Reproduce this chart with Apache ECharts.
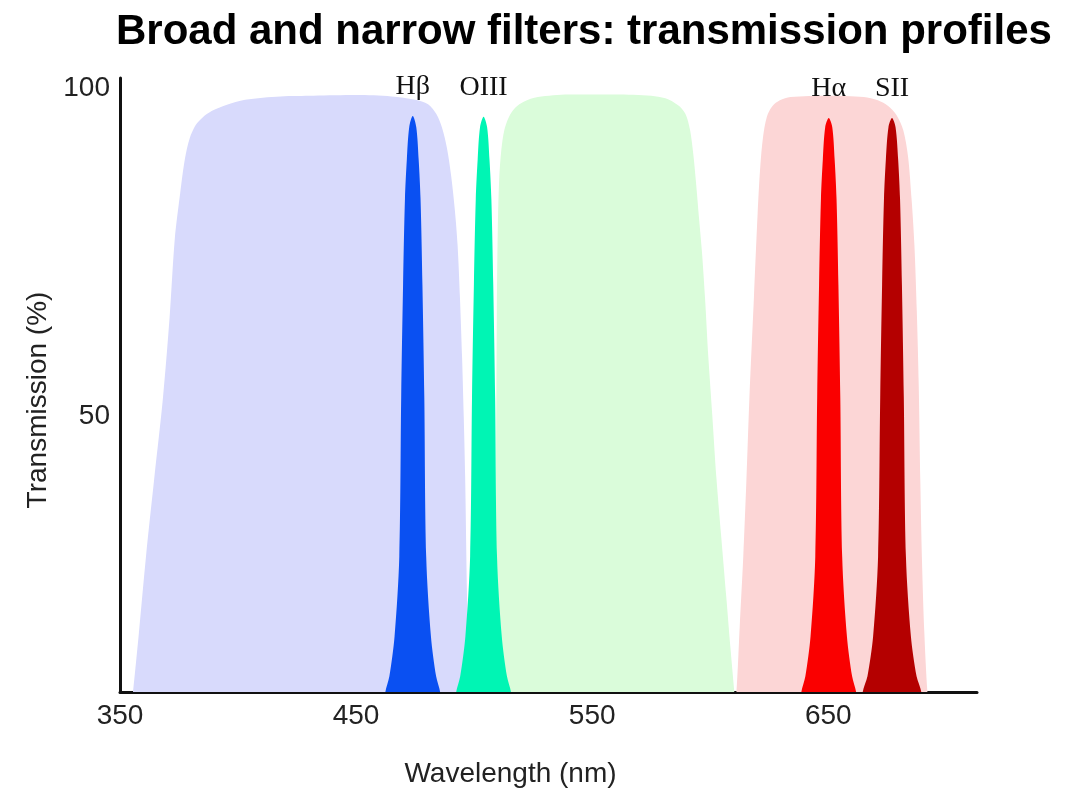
<!DOCTYPE html>
<html>
<head>
<meta charset="utf-8">
<title>Broad and narrow filters: transmission profiles</title>
<script src="https://cdn.jsdelivr.net/npm/echarts@6/dist/echarts.min.js"></script>
<style>
  html, body { margin: 0; padding: 0; background: #ffffff; }
  #chart { width: 1081px; height: 796px; }
</style>
</head>
<body>
<div id="chart"></div>
<script>
// Wavelength (nm) / transmission (%) pairs for each filter profile.
const broadBlue = [
  [353, 0], [355.5, 8], [358, 17], [361, 28.6], [364.5, 40.5], [368.2, 52.8],
  [371, 65], [373.2, 77], [375.5, 84], [377.5, 89.2], [379.5, 92.3], [382, 94.3],
  [385, 95.5], [389, 96.5], [395, 97.4], [403, 98.2], [418, 98.7], [432, 98.8], [450, 98.9],
  [465, 98.7], [475, 98.2], [480.5, 97.5], [484, 96], [486.5, 93.8], [488.5, 90.8],
  [490.3, 86.5], [491.8, 81.5], [493, 76], [494, 68], [494.9, 58.9], [495.6, 50], [496.2, 40.7],
  [497, 22.5], [497.9, 8], [499, 0]
];
const broadGreen = [
  [508.5, 0], [509, 8], [509.3, 40], [509.6, 65], [510, 78], [510.6, 86],
  [511.5, 90.5], [512.8, 93.6], [514.8, 95.6], [517.5, 97], [521, 97.9], [527, 98.6], [540, 99],
  [560, 99], [575, 98.8], [581, 98.4], [584.5, 97.8], [587.5, 97], [589.8, 95.8],
  [591.5, 93.5], [592.8, 90], [594, 85.5], [595.3, 80], [596.5, 75], [597.8, 68], [599.2, 59],
  [600.9, 50], [602.6, 40.7], [604.7, 31.5], [606.8, 22.5], [608.5, 15],
  [610.2, 8], [612, 0]
];
const broadRed = [
  [609, 0], [611.1, 8], [612.5, 18], [614, 28.6], [615.3, 40], [616.6, 52.8],
  [618.5, 68], [620.1, 81], [621.2, 88], [622.4, 92.6], [624, 95.6], [626.3, 97.2], [629.5, 98.1],
  [634, 98.6], [650, 98.8], [665, 98.6], [671, 98.1], [675.5, 97.2], [679, 95.8],
  [681.8, 93.5], [683.8, 89.5], [685.3, 83], [686.5, 76], [687.5, 66], [688.3, 55], [689, 40],
  [689.7, 28], [690.7, 17], [692, 8], [694, 0]
];
const lineHbeta = [
  [461, 3], [462.4, 8], [464.1, 10.4], [466.3, 16.5], [468.3, 28.6], [469.1, 52.8],
  [469.9, 70], [470.7, 83.1], [471.5, 89.1], [472.5, 94], [474, 95.7], [475.5, 94],
  [476.5, 89.1], [477.3, 83.1], [478.1, 70], [478.9, 52.8], [479.7, 28.6], [481.7, 16.5],
  [483.9, 10.4], [485.6, 8], [487, 3]
];
const lineOIII = [
  [491, 3], [492.4, 8], [494.1, 10.4], [496.3, 16.5], [498.3, 28.6], [499.1, 52.8],
  [499.9, 70], [500.7, 83.1], [501.5, 89.1], [502.5, 94], [504, 95.6], [505.5, 94],
  [506.5, 89.1], [507.3, 83.1], [508.1, 70], [508.9, 52.8], [509.7, 28.6], [511.7, 16.5],
  [513.9, 10.4], [515.6, 8], [517, 3]
];
const lineHalpha = [
  [637.2, 3], [638.6, 8], [640.3, 10.4], [642.5, 16.5], [644.5, 28.6], [645.3, 52.8],
  [646.1, 70], [646.9, 83.1], [647.7, 89.1], [648.7, 94], [650.2, 95.4], [651.7, 94],
  [652.7, 89.1], [653.5, 83.1], [654.3, 70], [655.1, 52.8], [655.9, 28.6], [657.9, 16.5],
  [660.1, 10.4], [661.8, 8], [663.2, 3]
];
const lineSII = [
  [663.6, 3], [664.6, 8], [666.6, 10.4], [669, 16.5], [671.1, 28.6], [672, 52.8],
  [672.8, 70], [673.6, 83.1], [674.4, 89.1], [675.5, 94], [677, 95.4], [678.5, 94],
  [679.6, 89.1], [680.4, 83.1], [681.2, 70], [682, 52.8], [682.9, 28.6], [685, 16.5],
  [687.4, 10.4], [689.4, 8], [690.5, 3]
];

const lineNames = ['H\u03b2', 'OIII', 'H\u03b1', 'SII'];
const xTickLabels = [350, 450, 550, 650];
const yTickLabels = [50, 100];

const sansFont = '"Liberation Sans", Arial, Helvetica, sans-serif';
const serifFont = '"Liberation Serif", "Times New Roman", serif';

function peakOf(data) {
  return data.reduce((best, p) => (p[1] > best[1] ? p : best), data[0]);
}

function broadSeries(name, data, color) {
  return {
    name: name,
    type: 'line',
    data: data,
    smooth: 0.3,
    symbol: 'none',
    silent: true,
    clip: true,
    lineStyle: { width: 0 },
    areaStyle: { color: color, opacity: 1, origin: 'start' }
  };
}

function narrowSeries(name, data, color) {
  const s = broadSeries(name, data, color);
  s.markPoint = {
    symbol: 'circle',
    symbolSize: 0,
    silent: true,
    data: [{ coord: peakOf(data) }],
    label: {
      show: true,
      position: 'top',
      distance: 15,
      formatter: name,
      fontFamily: serifFont,
      fontSize: 28,
      color: '#111'
    }
  };
  return s;
}

const chart = echarts.init(document.getElementById('chart'), null, { renderer: 'canvas' });

chart.setOption({
  animation: false,
  backgroundColor: '#ffffff',
  title: {
    text: 'Broad and narrow filters: transmission profiles',
    left: 116,
    top: 11,
    padding: 0,
    textStyle: {
      fontFamily: sansFont,
      fontSize: 42,
      fontWeight: 'bold',
      color: '#000'
    }
  },
  grid: {
    left: 120,
    right: 104,
    top: 78,
    bottom: 104,
    containLabel: false,
    outerBoundsMode: 'none'
  },
  xAxis: {
    type: 'value',
    min: 350,
    max: 713,
    name: 'Wavelength (nm)',
    nameLocation: 'middle',
    nameGap: 68,
    nameTextStyle: {
      fontFamily: sansFont,
      fontSize: 28,
      color: '#222',
      padding: [0, 76, 0, 0]
    },
    axisLine: { show: true, onZero: false, lineStyle: { color: '#111', width: 3 } },
    axisTick: { show: false },
    splitLine: { show: false },
    axisLabel: {
      customValues: xTickLabels,
      fontFamily: sansFont,
      fontSize: 28,
      color: '#222',
      margin: 10
    }
  },
  yAxis: {
    type: 'value',
    min: 8,
    max: 101.5,
    name: 'Transmission (%)',
    nameLocation: 'middle',
    nameGap: 66,
    nameTextStyle: {
      fontFamily: sansFont,
      fontSize: 28,
      color: '#222',
      padding: [0, 30, 0, 0]
    },
    axisLine: { show: true, onZero: false, lineStyle: { color: '#111', width: 3 } },
    axisTick: { show: false },
    splitLine: { show: false },
    axisLabel: {
      customValues: yTickLabels,
      fontFamily: sansFont,
      fontSize: 28,
      color: '#222',
      margin: 10
    }
  },
  series: [
    broadSeries('Blue', broadBlue, '#d8dafc'),
    broadSeries('Green', broadGreen, '#dafcda'),
    broadSeries('Red', broadRed, '#fcd6d6'),
    narrowSeries(lineNames[0], lineHbeta, '#0a50f2'),
    narrowSeries(lineNames[1], lineOIII, '#00f5b4'),
    narrowSeries(lineNames[2], lineHalpha, '#fa0000'),
    narrowSeries(lineNames[3], lineSII, '#b40000')
  ]
});
</script>
</body>
</html>
